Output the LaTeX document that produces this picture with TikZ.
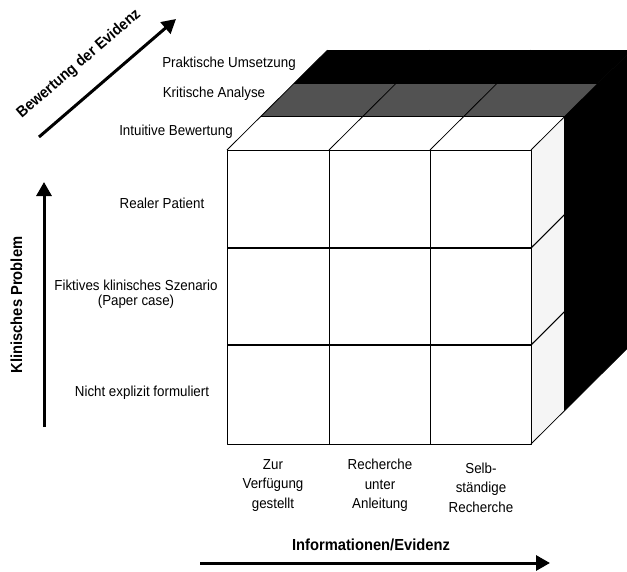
\documentclass[tikz,border=0pt]{standalone}
\usepackage{fontspec}
\setmainfont[FakeStretch=0.92]{Liberation Sans}
\usetikzlibrary{arrows.meta}
\begin{document}
\begin{tikzpicture}[x=1pt,y=-1pt,
  lab/.style={font=\fontsize{14.5}{15}\selectfont, inner sep=0pt, align=center},
  botlab/.style={font=\fontsize{14.5}{19.5}\selectfont, inner sep=0pt, align=center},
  boldlab/.style={font=\fontsize{16}{17}\selectfont\bfseries, inner sep=0pt},
  axisarrow/.style={line width=3pt, -{Triangle[length=14pt,width=15pt]}},
  cubeedge/.style={line width=0.8pt, line join=round},
  rowedge/.style={line width=1.1pt}]
\useasboundingbox (0,0) rectangle (627,571);
\clip (0,0) rectangle (627,571);

% ---- cube: depth layers (top faces) ----
\fill[white] (227,150) -- (531,150) -- (564.5,116.7) -- (260.5,116.7) -- cycle;
\fill[black!68] (260.5,116.7) -- (564.5,116.7) -- (598,83.4) -- (294,83.4) -- cycle;
\fill[black] (294,83.4) -- (598,83.4) -- (631.5,50.1) -- (327.5,50.1) -- cycle;
% ---- cube: right side faces ----
\fill[black!4] (531,150) -- (564.5,116.7) -- (564.5,410.7) -- (531,444) -- cycle;
\fill[black] (564.5,116.7) -- (598,83.4) -- (631.5,50.1) -- (631.5,344.1) -- (564.5,410.7) -- cycle;
% ---- front face ----
\fill[white] (227,150) rectangle (531,444);

% outlines of top layers
\draw[cubeedge] (227,150) -- (327.5,50.1);
\draw[cubeedge] (260.5,116.7) -- (564.5,116.7);
\draw[cubeedge] (294,83.4) -- (598,83.4);
\draw[cubeedge] (327.5,50.1) -- (631.5,50.1);
\draw[cubeedge] (329,150) -- (429.5,50.1);
\draw[cubeedge] (430,150) -- (530.5,50.1);
\draw[cubeedge] (531,150) -- (631.5,50.1);
% right side
\draw[cubeedge] (531,444) -- (631.5,344.1);
\draw[cubeedge] (564.5,116.7) -- (564.5,410.7);
\draw[rowedge] (531,248) -- (564.5,214.7);
\draw[rowedge] (531,345) -- (564.5,311.7);
% front grid
\draw[cubeedge] (227,150) rectangle (531,444);
\draw[cubeedge] (329,150) -- (329,444);
\draw[cubeedge] (430,150) -- (430,444);
\draw[rowedge] (227,248) -- (531,248);
\draw[rowedge] (227,345) -- (531,345);

% ---- labels: depth layers ----
\node[lab, anchor=base] (prak) at (229,67) {Praktische Umsetzung};
\node[lab, anchor=base] (krit) at (214,97) {Kritische Analyse};
\node[lab, anchor=base] (intu) at (176,135) {Intuitive Bewertung};

% ---- labels: rows ----
\node[lab, anchor=base] (real) at (162,208) {Realer Patient};
\node[lab] (fikt) at (136,294.5) {Fiktives klinisches Szenario\\(Paper case)};
\node[lab, anchor=base] (nicht) at (142,396) {Nicht explizit formuliert};

% ---- labels: columns ----
\node[botlab] (zur) at (273,485.5) {Zur\\Verfügung\\gestellt};
\node[botlab] (rech) at (380,485.5) {Recherche\\unter\\Anleitung};
\node[botlab] (selb) at (481,487.5) {Selb-\\ständige\\Recherche};

% ---- axes ----
\coordinate (vA) at (44,427);
\coordinate (vB) at (44,182);
\draw[axisarrow] (vA) -- (vB);
\node[boldlab, rotate=90] (klin) at (16.5,305) {Klinisches Problem};

\coordinate (hA) at (200,563);
\coordinate (hB) at (550,563);
\draw[axisarrow] (hA) -- (hB);
\node[boldlab] (info) at (371,545) {Informationen/Evidenz};

\coordinate (dA) at (39,137);
\coordinate (dB) at (176,19);
\draw[axisarrow] (dA) -- (dB);
\node[boldlab, rotate=40.7, font=\fontsize{15.5}{17}\selectfont\bfseries] (bew) at (79,64) {Bewertung der Evidenz};
\end{tikzpicture}
\end{document}
